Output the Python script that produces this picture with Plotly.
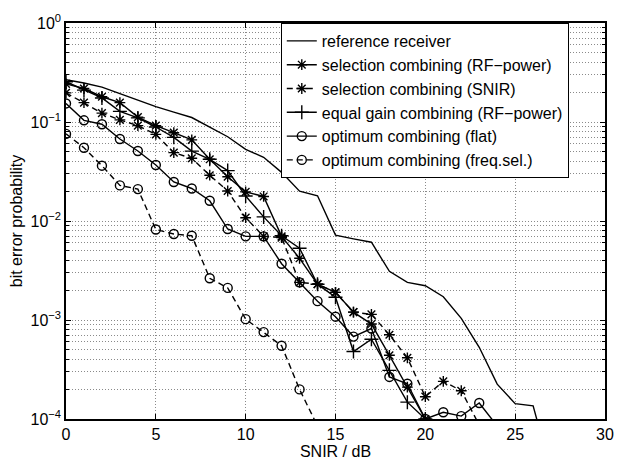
import plotly.graph_objects as go

# ---- data ----
snir_ref = list(range(0, 28))
ber_ref = [0.267, 0.248, 0.225, 0.193, 0.166, 0.143, 0.126, 0.111, 0.089, 0.071,
           0.053, 0.044, 0.031, 0.0200, 0.0180, 0.0072, 0.0066, 0.0061, 0.0031, 0.0024,
           0.00222, 0.00172, 0.00104, 0.00053, 0.000225, 0.000143, 0.000136, 0.000029]

snir_sc_rf = list(range(0, 21))
ber_sc_rf = [0.243, 0.218, 0.180, 0.157, 0.112, 0.092, 0.078, 0.066, 0.042, 0.028,
             0.0197, 0.0177, 0.0070, 0.0042, 0.0023, 0.0019, 0.0012, 0.00091, 0.00044, 0.00021,
             0.0001]

snir_sc_snir = list(range(0, 24))
ber_sc_snir = [0.197, 0.157, 0.123, 0.105, 0.092, 0.075, 0.049, 0.043, 0.029, 0.0201,
               0.0108, 0.0070, 0.0068, 0.0024, 0.0023, 0.0019, 0.0012, 0.00114, 0.00071, 0.000415,
               0.000168, 0.00024, 0.000193, 0.000087]

snir_egc = list(range(0, 21))
ber_egc = [0.255, 0.210, 0.175, 0.128, 0.110, 0.089, 0.070, 0.0508, 0.042, 0.0323,
           0.0179, 0.0110, 0.0071, 0.0053, 0.0023, 0.0017, 0.00048, 0.00064, 0.00031, 0.000148,
           0.0001]

snir_oc_flat = list(range(0, 25))
ber_oc_flat = [0.154, 0.104, 0.095, 0.0674, 0.051, 0.0368, 0.0248, 0.0213, 0.016, 0.0083,
               0.0070, 0.0070, 0.0037, 0.0024, 0.00155, 0.00108, 0.00068, 0.00082, 0.000266, 0.000227,
               0.0001, 0.000117, 0.000107, 0.000145, 0.000085]

snir_oc_fs = list(range(0, 15))
ber_oc_fs = [0.0758, 0.055, 0.0362, 0.0229, 0.021, 0.0082, 0.0074, 0.0071, 0.00264, 0.00211,
             0.00102, 0.000755, 0.00055, 0.000199, 0.000085]

names = ["reference receiver",
         "selection combining (RF\u2212power)",
         "selection combining (SNIR)",
         "equal gain combining (RF\u2212power)",
         "optimum combining (flat)",
         "optimum combining (freq.sel.)"]

x_ticks = [0, 5, 10, 15, 20, 25, 30]
y_ticks = [1e-4, 1e-3, 1e-2, 1e-1, 1e0]
y_ticktext = ["10<sup>\u22124</sup>", "10<sup>\u22123</sup>", "10<sup>\u22122</sup>",
              "10<sup>\u22121</sup>", "10<sup>0</sup>"]
y_minor = [k * 10.0 ** d for d in range(-4, 0) for k in range(2, 10)]

FONT = "Liberation Sans, Arial, Helvetica, sans-serif"
DASH = "6px,4px"
LW = 1.4

series = [
    (snir_ref, ber_ref, "solid", None),
    (snir_sc_rf, ber_sc_rf, "solid", "asterisk-open"),
    (snir_sc_snir, ber_sc_snir, DASH, "asterisk-open"),
    (snir_egc, ber_egc, "solid", "cross-thin-open"),
    (snir_oc_flat, ber_oc_flat, "solid", "circle-open"),
    (snir_oc_fs, ber_oc_fs, DASH, "circle-open"),
]

fig = go.Figure()
for (xs, ys, dash, sym), name in zip(series, names):
    if sym is None:
        fig.add_trace(go.Scatter(x=xs, y=ys, mode="lines", name=name,
                                 line=dict(color="black", width=LW, dash=dash)))
    else:
        size = 9 if sym != "cross-thin-open" else 10
        fig.add_trace(go.Scatter(x=xs, y=ys, mode="lines+markers", name=name,
                                 line=dict(color="black", width=LW, dash=dash),
                                 marker=dict(symbol=sym, size=size, color="black",
                                             line=dict(color="black", width=1.4))))

grid_col = "#8a8a8a"
fig.update_layout(
    width=626, height=468,
    margin=dict(l=66, r=18, t=20, b=41),
    paper_bgcolor="white", plot_bgcolor="white",
    font=dict(family=FONT, size=16, color="black"),
    showlegend=True,
    legend=dict(x=0.3985, y=1.0, xanchor="left", yanchor="top",
                bgcolor="white", bordercolor="black", borderwidth=1,
                font=dict(family=FONT, size=16, color="black"),
                tracegroupgap=0),
)
fig.update_xaxes(
    range=[0, 30], tickmode="array", tickvals=x_ticks,
    ticks="inside", ticklen=5, tickwidth=1, tickcolor="black",
    showline=True, linecolor="black", linewidth=1.5, mirror="allticks",
    showgrid=True, gridcolor=grid_col, gridwidth=1, griddash="1px,2px",
    zeroline=False,
    tickfont=dict(family=FONT, size=16, color="black"),
    title=dict(text="SNIR / dB", standoff=2, font=dict(family=FONT, size=16)),
)
fig.update_yaxes(
    type="log", range=[-4, 0], tickmode="array", tickvals=y_ticks, ticktext=y_ticktext,
    ticks="inside", ticklen=5, tickwidth=1, tickcolor="black",
    showline=True, linecolor="black", linewidth=1.5, mirror="allticks",
    showgrid=True, gridcolor=grid_col, gridwidth=1, griddash="1px,2px",
    zeroline=False,
    tickfont=dict(family=FONT, size=16, color="black"),
    title=dict(text="bit error probability", standoff=4, font=dict(family=FONT, size=16)),
    minor=dict(tickmode="array", tickvals=y_minor, ticks="inside", ticklen=3,
               tickcolor="black", showgrid=True, gridcolor=grid_col, gridwidth=1,
               griddash="1px,2px"),
)

fig.write_html("out.html")
